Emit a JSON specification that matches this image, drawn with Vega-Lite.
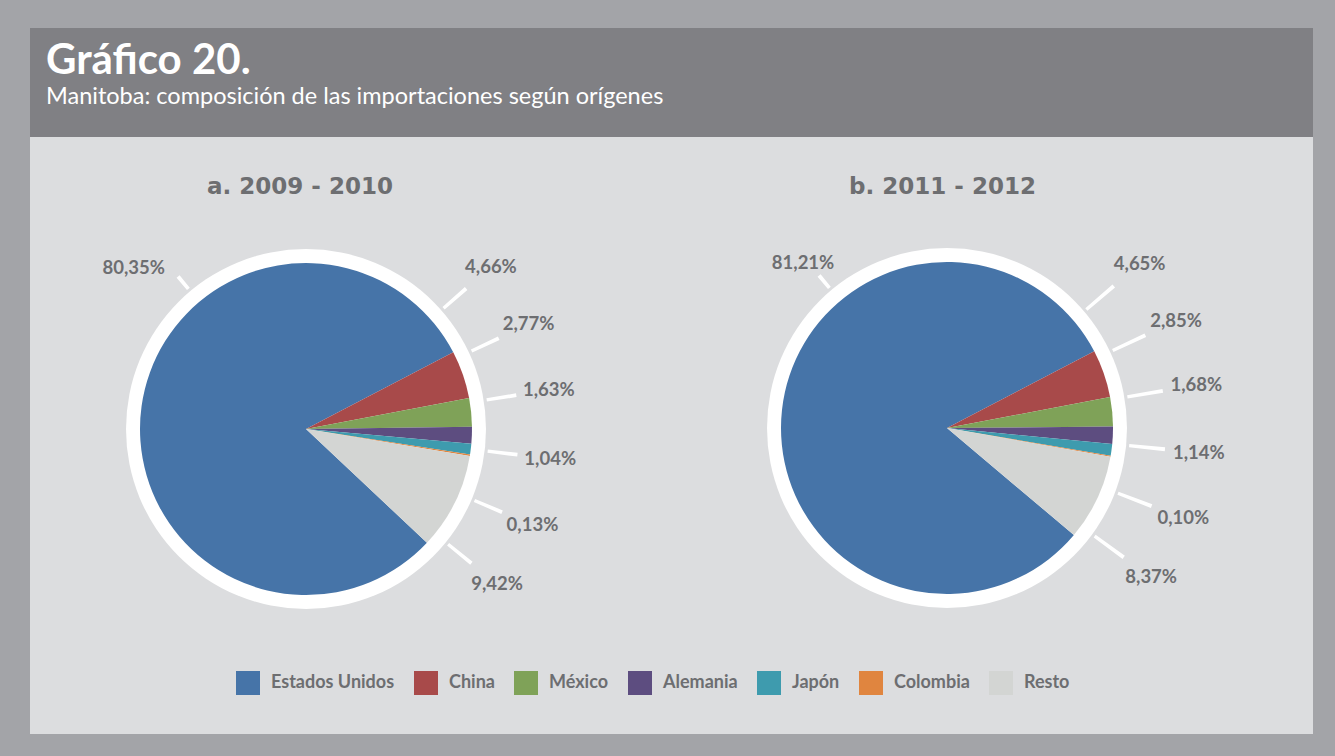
{
  "$schema": "https://vega.github.io/schema/vega-lite/v6.json",
  "background": "#a3a4a8",
  "padding": {"left": 30, "top": 28, "right": 22, "bottom": 22},
  "config": {
    "view": {"stroke": null},
    "font": "Lato",
    "locale": {"number": {"decimal": ",", "thousands": ".", "grouping": [3], "currency": ["", " €"]}}
  },
  "datasets": {
    "imp_2009_2010": [
      {"origen": "Estados Unidos", "orden": 1, "participacion": 0.8035},
      {"origen": "China", "orden": 2, "participacion": 0.0466},
      {"origen": "México", "orden": 3, "participacion": 0.0277},
      {"origen": "Alemania", "orden": 4, "participacion": 0.0163},
      {"origen": "Japón", "orden": 5, "participacion": 0.0104},
      {"origen": "Colombia", "orden": 6, "participacion": 0.0013},
      {"origen": "Resto", "orden": 7, "participacion": 0.0942}
    ],
    "imp_2011_2012": [
      {"origen": "Estados Unidos", "orden": 1, "participacion": 0.8121},
      {"origen": "China", "orden": 2, "participacion": 0.0465},
      {"origen": "México", "orden": 3, "participacion": 0.0285},
      {"origen": "Alemania", "orden": 4, "participacion": 0.0168},
      {"origen": "Japón", "orden": 5, "participacion": 0.0114},
      {"origen": "Colombia", "orden": 6, "participacion": 0.0010},
      {"origen": "Resto", "orden": 7, "participacion": 0.0837}
    ]
  },
  "spacing": 0,
  "vconcat": [
    {
      "width": 1283,
      "height": 109,
      "view": {"fill": "#808084", "stroke": null},
      "title": {
        "text": "Gráfico 20.",
        "subtitle": "Manitoba: composición de las importaciones según orígenes",
        "anchor": "start", "frame": "group", "orient": "top", "offset": -81, "dx": 16,
        "font": "Lato", "fontSize": 42, "fontWeight": "bold", "color": "#ffffff",
        "subtitleFont": "Lato", "subtitleFontSize": 23.5, "subtitleFontWeight": "normal",
        "subtitleColor": "#ffffff", "subtitlePadding": 2
      },
      "data": {"values": [{"texto": ""}]},
      "mark": {"type": "text"},
      "encoding": {"text": {"field": "texto", "type": "nominal"}}
    },
    {
      "spacing": 0,
      "hconcat": [
        {
          "width": 550,
          "height": 597,
          "view": {"fill": "#dcdddf", "stroke": null},
          "title": {"text": "a. 2009 - 2010", "anchor": "middle", "frame": "group", "orient": "top", "offset": -62, "dx": -5, "font": "DejaVu Sans", "fontSize": 23, "fontWeight": "bold", "color": "#6d6e71"},
          "data": {"name": "imp_2009_2010"},
          "encoding": {
            "x": {"datum": 0, "type": "quantitative", "scale": {"domain": [-276, 274], "nice": false, "zero": false}, "axis": null},
            "y": {"datum": 0, "type": "quantitative", "scale": {"domain": [-305, 292], "nice": false, "zero": false}, "axis": null}
          },
          "resolve": {"scale": {"theta": "independent"}},
          "layer": [
            {
              "transform": [{"filter": "datum.orden == 1"}],
              "mark": {"type": "arc", "radius": 180, "theta": 0, "theta2": 6.2832, "color": "#ffffff"}
            },
            {
              "mark": {"type": "arc", "radius": 166},
              "encoding": {
                "theta": {"field": "participacion", "type": "quantitative", "stack": true, "scale": {"range": [2.3255, 8.6087]}},
                "order": {"field": "orden", "type": "quantitative", "sort": "ascending"},
                "color": {
                  "field": "origen", "type": "nominal",
                  "scale": {"domain": ["Estados Unidos", "China", "México", "Alemania", "Japón", "Colombia", "Resto"], "range": ["#4674a8", "#a84a4a", "#7fa258", "#5d4d80", "#3e9bae", "#e0853f", "#d3d5d3"]},
                  "legend": {"orient": "none", "legendX": 206, "legendY": 643, "direction": "horizontal", "title": null, "symbolType": "square", "symbolSize": 576, "symbolStrokeWidth": 0, "symbolOpacity": 1, "labelFont": "Lato", "labelFontSize": 18, "labelFontWeight": "bold", "labelColor": "#6d6e71", "labelOffset": 11, "columnPadding": 19, "padding": 0, "labelLimit": 220}
                }
              }
            },
            {
              "transform": [{"filter": "datum.origen != 'Estados Unidos'"}],
              "mark": {"type": "arc", "radius": 213, "radius2": 183, "thetaOffset": -0.009, "theta2Offset": 0.009, "color": "#ffffff"},
              "encoding": {
                "theta": {"field": "origen", "type": "nominal", "scale": {"type": "point", "domain": ["China", "México", "Alemania", "Japón", "Colombia", "Resto"], "range": [0.8508, 2.2524], "padding": 0}},
                "theta2": {"field": "origen"}
              }
            },
            {
              "transform": [{"filter": "datum.origen != 'Estados Unidos'"}],
              "mark": {"type": "text", "radius": 246, "font": "Lato", "fontSize": 18.5, "fontWeight": "bold", "color": "#6d6e71", "align": "center", "baseline": "middle"},
              "encoding": {
                "theta": {"field": "origen", "type": "nominal", "scale": {"type": "point", "domain": ["China", "México", "Alemania", "Japón", "Colombia", "Resto"], "range": [0.8508, 2.2524], "padding": 0}},
                "text": {"field": "participacion", "type": "quantitative", "format": ".2%"}
              }
            },
            {
              "transform": [{"filter": "datum.origen == 'Estados Unidos'"}],
              "mark": {"type": "arc", "radius": 199, "radius2": 183, "thetaOffset": -0.01, "theta2Offset": 0.01, "color": "#ffffff"},
              "encoding": {
                "theta": {"field": "origen", "type": "nominal", "scale": {"type": "point", "domain": ["Estados Unidos"], "range": [5.585, 5.585], "padding": 0}},
                "theta2": {"field": "origen"}
              }
            },
            {
              "transform": [{"filter": "datum.origen == 'Estados Unidos'"}],
              "mark": {"type": "text", "radius": 236, "font": "Lato", "fontSize": 18.5, "fontWeight": "bold", "color": "#6d6e71", "align": "center", "baseline": "middle"},
              "encoding": {
                "theta": {"field": "origen", "type": "nominal", "scale": {"type": "point", "domain": ["Estados Unidos"], "range": [5.465, 5.465], "padding": 0}},
                "text": {"field": "participacion", "type": "quantitative", "format": ".2%"}
              }
            }
          ]
        },
        {
          "width": 733,
          "height": 597,
          "view": {"fill": "#dcdddf", "stroke": null},
          "title": {"text": "b. 2011 - 2012", "anchor": "middle", "frame": "group", "orient": "top", "offset": -62, "dx": -4, "font": "DejaVu Sans", "fontSize": 23, "fontWeight": "bold", "color": "#6d6e71"},
          "data": {"name": "imp_2011_2012"},
          "encoding": {
            "x": {"datum": 0, "type": "quantitative", "scale": {"domain": [-367, 366], "nice": false, "zero": false}, "axis": null},
            "y": {"datum": 0, "type": "quantitative", "scale": {"domain": [-306, 291], "nice": false, "zero": false}, "axis": null}
          },
          "resolve": {"scale": {"theta": "independent"}},
          "layer": [
            {
              "transform": [{"filter": "datum.orden == 1"}],
              "mark": {"type": "arc", "radius": 180, "theta": 0, "theta2": 6.2832, "color": "#ffffff"}
            },
            {
              "mark": {"type": "arc", "radius": 166},
              "encoding": {
                "theta": {"field": "participacion", "type": "quantitative", "stack": true, "scale": {"range": [2.2714, 8.5546]}},
                "order": {"field": "orden", "type": "quantitative", "sort": "ascending"},
                "color": {
                  "field": "origen", "type": "nominal",
                  "scale": {"domain": ["Estados Unidos", "China", "México", "Alemania", "Japón", "Colombia", "Resto"], "range": ["#4674a8", "#a84a4a", "#7fa258", "#5d4d80", "#3e9bae", "#e0853f", "#d3d5d3"]},
                  "legend": {"orient": "none", "legendX": 206, "legendY": 643, "direction": "horizontal", "title": null, "symbolType": "square", "symbolSize": 576, "symbolStrokeWidth": 0, "symbolOpacity": 1, "labelFont": "Lato", "labelFontSize": 18, "labelFontWeight": "bold", "labelColor": "#6d6e71", "labelOffset": 11, "columnPadding": 19, "padding": 0, "labelLimit": 220}
                }
              }
            },
            {
              "transform": [{"filter": "datum.origen != 'Estados Unidos'"}],
              "mark": {"type": "arc", "radius": 219, "radius2": 183, "thetaOffset": -0.009, "theta2Offset": 0.009, "color": "#ffffff"},
              "encoding": {
                "theta": {"field": "origen", "type": "nominal", "scale": {"type": "point", "domain": ["China", "México", "Alemania", "Japón", "Colombia", "Resto"], "range": [0.8657, 2.2026], "padding": 0}},
                "theta2": {"field": "origen"}
              }
            },
            {
              "transform": [{"filter": "datum.origen != 'Estados Unidos'"}],
              "mark": {"type": "text", "radius": 253, "font": "Lato", "fontSize": 18.5, "fontWeight": "bold", "color": "#6d6e71", "align": "center", "baseline": "middle"},
              "encoding": {
                "theta": {"field": "origen", "type": "nominal", "scale": {"type": "point", "domain": ["China", "México", "Alemania", "Japón", "Colombia", "Resto"], "range": [0.8657, 2.2026], "padding": 0}},
                "text": {"field": "participacion", "type": "quantitative", "format": ".2%"}
              }
            },
            {
              "transform": [{"filter": "datum.origen == 'Estados Unidos'"}],
              "mark": {"type": "arc", "radius": 199, "radius2": 183, "thetaOffset": -0.01, "theta2Offset": 0.01, "color": "#ffffff"},
              "encoding": {
                "theta": {"field": "origen", "type": "nominal", "scale": {"type": "point", "domain": ["Estados Unidos"], "range": [5.585, 5.585], "padding": 0}},
                "theta2": {"field": "origen"}
              }
            },
            {
              "transform": [{"filter": "datum.origen == 'Estados Unidos'"}],
              "mark": {"type": "text", "radius": 219, "font": "Lato", "fontSize": 18.5, "fontWeight": "bold", "color": "#6d6e71", "align": "center", "baseline": "middle"},
              "encoding": {
                "theta": {"field": "origen", "type": "nominal", "scale": {"type": "point", "domain": ["Estados Unidos"], "range": [5.566, 5.566], "padding": 0}},
                "text": {"field": "participacion", "type": "quantitative", "format": ".2%"}
              }
            }
          ]
        }
      ]
    }
  ]
}
